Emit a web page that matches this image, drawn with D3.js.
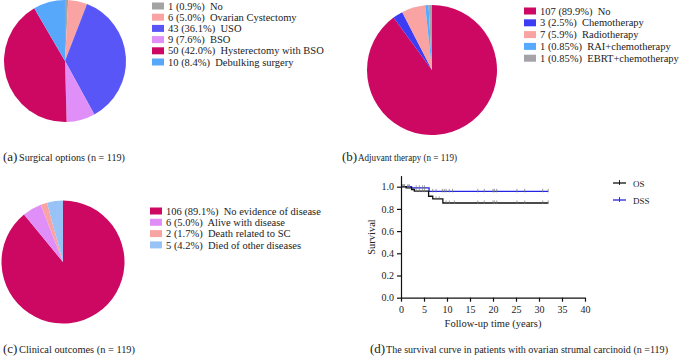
<!DOCTYPE html>
<html>
<head>
<meta charset="utf-8">
<script src="https://cdn.jsdelivr.net/npm/d3@7"></script>
<style>
  body { margin: 0; background: #fff; }
  svg { display: block; }
  svg text { font-family: 'Liberation Serif', 'Times New Roman', serif; }
  .leg text { white-space: pre; }
</style>
</head>
<body>
<div id="chart"></div>
<script>
// (a) surgical options
const surgLabels = ['1 (0.9%)  No', '6 (5.0%)  Ovarian Cystectomy', '43 (36.1%)  USO', '9 (7.6%)  BSO',
  '50 (42.0%)  Hysterectomy with BSO', '10 (8.4%)  Debulking surgery'];
const surgCounts = [1, 6, 43, 9, 50, 10];
const surgColors = ['#a3a3a3', '#f9a3a3', '#5856f6', '#df8ff7', '#cc0862', '#57a7fb'];

// (b) adjuvant therapy
const adjLabels = ['107 (89.9%)  No', '3 (2.5%)  Chemotherapy', '7 (5.9%)  Radiotherapy',
  '1 (0.85%)  RAI+chemotherapy', '1 (0.85%)  EBRT+chemotherapy'];
const adjCounts = [107, 3, 7, 1, 1];
const adjColors = ['#cc0862', '#3c3cf5', '#f9a3a3', '#55aaff', '#a3a3a8'];

// (c) clinical outcomes
const outLabels = ['106 (89.1%)  No evidence of disease', '6 (5.0%)  Alive with disease',
  '2 (1.7%)  Death related to SC', '5 (4.2%)  Died of other diseases'];
const outCounts = [106, 6, 2, 5];
const outColors = ['#cc0862', '#df8ff7', '#f9a3a3', '#99c3f7'];

// (d) survival curves, [years, survival]
const osSteps = [[0, 1], [1.1, 0.99], [2.3, 0.975], [2.9, 0.96], [6.0, 0.914], [6.9, 0.89], [9.1, 0.853], [32, 0.853]];
const dssSteps = [[0, 1], [2.3, 0.99], [6.1, 0.958], [32, 0.958]];
const osCensor = [0.4, 0.7, 1.5, 1.8, 3.3, 4, 4.7, 5.1, 7.6, 8.3, 9.8, 10.5, 11.6, 16.7, 18.1, 20, 20.3, 20.8, 25.2, 26.9, 30.8, 32];
const dssCensor = [0.4, 0.7, 1.5, 1.8, 3.3, 4, 4.7, 5.1, 6.9, 7.6, 9.0, 9.4, 9.8, 10.5, 11.2, 16.7, 18.1, 20, 20.3, 20.8, 25.2, 26.9, 30.8, 32];
const xTicks = [0, 5, 10, 15, 20, 25, 30, 35, 40];
const yTicks = [0, 0.2, 0.4, 0.6, 0.8, 1.0];

const FONT = "'Liberation Serif', 'Times New Roman', serif";
const svg = d3.select('#chart').append('svg').attr('width', 685).attr('height', 356)
  .attr('font-family', FONT);

function drawPie(cx, cy, r, counts, colors, labels, lx, ly, step) {
  const g = svg.append('g').attr('transform', `translate(${cx},${cy})`);
  const arcs = d3.pie().sort(null)(counts);
  g.selectAll('path').data(arcs).join('path')
    .attr('d', d3.arc().innerRadius(0).outerRadius(r))
    .attr('fill', (d, i) => colors[i]);

  const leg = svg.append('g').attr('class', 'leg').attr('transform', `translate(${lx},${ly})`);
  const row = leg.selectAll('g').data(labels).join('g')
    .attr('transform', (d, i) => `translate(0,${i * step})`);
  row.append('rect').attr('x', 0).attr('y', -3.5).attr('width', 12).attr('height', 7)
    .attr('fill', (d, i) => colors[i]);
  row.append('text').attr('x', 16).attr('y', 3.6).attr('font-size', 10.5).attr('fill', '#222')
    .attr('font-family', FONT).text(d => d);
}

function caption(x, y, tag, text, endX) {
  svg.append('text').attr('x', x).attr('y', y).attr('fill', '#222')
    .attr('font-family', FONT).attr('font-size', 13).text(tag);
  const w = 15;
  svg.append('text').attr('x', x + w + 1).attr('y', y).attr('font-size', 9.5).attr('fill', '#222')
    .attr('font-family', FONT)
    .attr('textLength', endX - x - w - 1).attr('lengthAdjust', 'spacingAndGlyphs')
    .text(text);
}

drawPie(65, 61, 61, surgCounts, surgColors, surgLabels, 152, 6, 11.2);
drawPie(432, 70, 65, adjCounts, adjColors, adjLabels, 524, 11, 11.8);
drawPie(63, 262, 61.5, outCounts, outColors, outLabels, 150, 211, 11.3);

caption(3, 161, '(a)', 'Surgical options (n = 119)', 125);
caption(342, 161, '(b)', 'Adjuvant therapy (n = 119)', 457);
caption(3, 353, '(c)', 'Clinical outcomes (n = 119)', 135);
caption(370, 353, '(d)', 'The survival curve in patients with ovarian strumal carcinoid (n =119)', 668);

// survival plot
const x = d3.scaleLinear().domain([0, 40]).range([401, 585]);
const y = d3.scaleLinear().domain([0, 1.1]).range([297.7, 175.6]);

svg.append('g').attr('transform', 'translate(0,297.7)')
  .call(d3.axisBottom(x).tickValues(xTicks).tickSize(4).tickSizeOuter(0))
  .attr('font-family', FONT)
  .call(g => g.selectAll('text').attr('font-size', 10).attr('fill', '#222').attr('dy', '0.85em'));
svg.append('g').attr('transform', 'translate(401,0)')
  .call(d3.axisLeft(y).tickValues(yTicks).tickFormat(d3.format('.1f')).tickSize(4).tickSizeOuter(0))
  .attr('font-family', FONT)
  .call(g => g.selectAll('text').attr('font-size', 10).attr('fill', '#222'));
svg.selectAll('.domain, .tick line').attr('stroke', '#111').attr('stroke-width', 1.2);

svg.append('text').attr('transform', 'translate(375,237) rotate(-90)')
  .attr('text-anchor', 'middle').attr('font-size', 10.5).attr('fill', '#222').text('Survival');
svg.append('text').attr('x', 493).attr('y', 327)
  .attr('text-anchor', 'middle').attr('font-size', 10.5).attr('fill', '#222').text('Follow-up time (years)');

const line = d3.line().x(d => x(d[0])).y(d => y(d[1])).curve(d3.curveStepAfter);
function survAt(steps, t) {
  let s = steps[0][1];
  steps.forEach(p => { if (p[0] <= t) s = p[1]; });
  return s;
}
function drawCurve(steps, censor, color) {
  svg.append('path').datum(steps).attr('d', line)
    .attr('fill', 'none').attr('stroke', color).attr('stroke-width', 1.3);
  svg.append('g').selectAll('line').data(censor).join('line')
    .attr('x1', d => x(d)).attr('x2', d => x(d))
    .attr('y1', d => y(survAt(steps, d)) - 2.5).attr('y2', d => y(survAt(steps, d)) + 1)
    .attr('stroke', '#777').attr('stroke-width', 0.9).attr('opacity', 0.8);
}
drawCurve(dssSteps, dssCensor, '#2424e8');
drawCurve(osSteps, osCensor, '#111');

const legD = svg.append('g');
[['OS', '#111', 183], ['DSS', '#2424e8', 200]].forEach(([name, c, ly]) => {
  legD.append('line').attr('x1', 613).attr('x2', 626).attr('y1', ly).attr('y2', ly)
    .attr('stroke', c).attr('stroke-width', 1.3);
  legD.append('line').attr('x1', 619.5).attr('x2', 619.5).attr('y1', ly - 3).attr('y2', ly + 2)
    .attr('stroke', c).attr('stroke-width', 0.9);
  legD.append('text').attr('x', 633).attr('y', ly + 3.5).attr('font-size', 9).attr('fill', '#222').text(name);
});
</script>
</body>
</html>
